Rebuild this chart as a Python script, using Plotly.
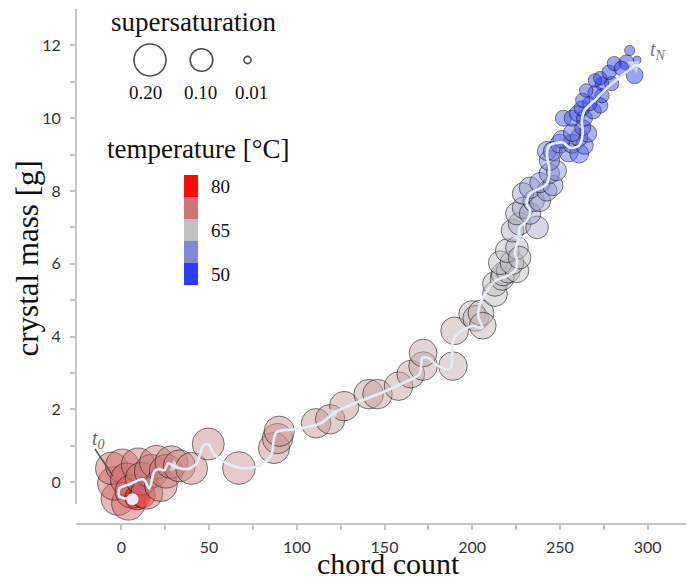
import numpy as np
import plotly.graph_objects as go
from plotly.colors import sample_colorscale

# ---- measurement series (in time order) ----
chord_count = [
    -2, 4, -4, -5.5, 0.5, 3, 6, 9, 12, 9.5, 11.5, 14.5, 17, 20, 22.5, 25.5, 28.5, 33, 40, 49.5,
    67, 87, 89, 90, 111, 119, 127, 141, 146, 158, 165, 172, 172, 189, 190, 200, 202, 205, 206,
    213, 213, 217, 217.6, 220.5, 225.5, 216, 222.7, 220, 225.5, 227, 223, 227, 237, 225.5, 229,
    233, 235, 238.6, 229, 233, 242.6, 238.6, 246, 244, 248, 244, 242.6, 246, 250, 255, 257, 251,
    261, 264, 261, 257, 266, 263, 252, 257, 260, 264, 269, 262.5, 273, 267, 263, 274, 270, 265,
    279.5, 274, 270, 273, 278, 281, 288, 285, 292.6, 289.8, 294,
]
crystal_mass = [
    -0.45, -0.58, -0.03, 0.38, 0.45, 0.08, -0.25, -0.42, -0.35, 0.48, 0.10, -0.30, 0.30, 0.55,
    -0.08, 0.30, 0.55, 0.45, 0.38, 1.05, 0.39, 0.94, 1.20, 1.40, 1.62, 1.73, 2.09, 2.42, 2.42,
    2.64, 2.97, 3.19, 3.55, 3.19, 4.16, 4.62, 4.50, 4.65, 4.30, 5.17, 5.45, 5.60, 5.72, 5.80,
    5.81, 6.03, 6.03, 6.36, 6.44, 6.17, 6.91, 7.10, 7.00, 7.38, 7.54, 7.38, 7.73, 7.73, 7.93,
    8.09, 8.00, 8.23, 8.15, 8.48, 8.56, 8.84, 9.10, 9.10, 9.30, 9.06, 9.30, 9.42, 9.03, 9.25,
    9.47, 9.60, 9.58, 9.74, 10.00, 10.00, 10.13, 10.00, 10.20, 10.27, 10.35, 10.40, 10.49,
    10.62, 10.70, 10.76, 10.95, 10.95, 11.04, 11.10, 11.26, 11.50, 11.53, 11.37, 11.18, 11.86,
    11.60,
]
supersaturation = [
    0.22, 0.22, 0.22, 0.21, 0.22, 0.21, 0.22, 0.12, 0.13, 0.22, 0.21, 0.20, 0.22, 0.22, 0.21,
    0.22, 0.21, 0.20, 0.20, 0.20, 0.21, 0.19, 0.18, 0.18, 0.17, 0.17, 0.17, 0.17, 0.17, 0.16,
    0.15, 0.16, 0.15, 0.16, 0.15, 0.14, 0.13, 0.13, 0.14, 0.12, 0.12, 0.11, 0.11, 0.11, 0.11,
    0.11, 0.11, 0.11, 0.10, 0.10, 0.10, 0.10, 0.10, 0.10, 0.09, 0.09, 0.09, 0.09, 0.09, 0.09,
    0.08, 0.08, 0.08, 0.08, 0.08, 0.08, 0.07, 0.07, 0.07, 0.07, 0.07, 0.06, 0.07, 0.06, 0.06,
    0.06, 0.06, 0.05, 0.05, 0.05, 0.05, 0.05, 0.05, 0.045, 0.045, 0.04, 0.04, 0.04, 0.04,
    0.035, 0.04, 0.035, 0.035, 0.035, 0.04, 0.04, 0.045, 0.04, 0.055, 0.02, 0.012,
]
temperature = [
    73.5, 73.5, 73.5, 73.5, 73, 73, 73.5, 80, 80, 72.5, 72.5, 72.5, 72, 72, 72, 71.5, 71.5, 71, 70.5, 70,
    69.5, 69.5, 69.5, 69.5, 69, 69, 69, 68.5, 68.5, 68, 68, 67.5, 67.5, 67, 67, 66, 66, 66, 66,
    65, 65, 65, 65, 65, 65, 65, 64.5, 64.5, 64, 64, 63, 63, 62, 63, 62, 62, 61, 61, 61,
    60, 59, 59, 59, 58, 58, 57, 56, 56, 55, 55, 55, 55, 54, 54, 54, 54, 53, 53, 53,
    53, 52, 52, 52, 52, 51.5, 51.5, 51.5, 51, 51, 51, 50.5, 50.5, 50.5, 50.5, 50, 50, 50, 50, 50,
    50, 50,
]

# ---- smoothed process trajectory ----
path_chord = [
    6.3, -1.1, -1.1, 4.5, 12.5, 15.9, 18.8, 21.6, 24.5, 26.7, 30, 36.9, 42.6, 46.6, 49.4,
    52.8, 60.8, 68.2, 77.8, 85.2, 87, 88.5, 100, 113.6, 121, 132, 148, 163, 170, 171.6,
    175, 180.7, 187.5, 189, 192, 200.6, 205.7, 203.4, 204.5, 208.5, 213, 220, 224.4, 225.6,
    224.4, 226.7, 227, 231, 233, 231, 233, 238.6, 242.6, 244, 242.6, 244, 251.7, 255.7, 261,
    263, 262.5, 264, 271, 277, 284, 292.6,
]
path_mass = [
    -0.47, -0.39, -0.17, -0.06, 0.08, -0.17, 0.30, 0.36, 0.33, 0.52, 0.44, 0.36, 0.50, 0.99,
    1.05, 0.77, 0.50, 0.39, 0.44, 0.72, 1.20, 1.38, 1.46, 1.62, 1.90, 2.15, 2.45, 2.78, 2.97,
    3.41, 3.41, 3.19, 3.11, 3.88, 4.10, 4.29, 4.24, 4.57, 4.90, 5.26, 5.53, 5.67, 5.81, 6.08,
    6.30, 6.74, 7.00, 7.18, 7.46, 7.65, 7.93, 8.07, 8.20, 8.56, 9.03, 9.25, 9.33, 9.19, 9.25,
    9.58, 9.94, 10.21, 10.54, 10.84, 11.12, 11.45,
]
arrow_points = [10, 24, 45, len(path_chord) - 1]

# ---- legend content ----
size_legend_values = [0.20, 0.10, 0.01]
size_legend_labels = ["0.20", "0.10", "0.01"]
temp_levels = [80, 72.5, 65, 57.5, 50]
temp_labels = {80: "80", 65: "65", 50: "50"}
T_MIN, T_MAX = 50, 80

x_ticks = list(range(0, 301, 50))
y_ticks = list(range(0, 13, 2))
X_RANGE = [-25.9, 321.9]
Y_RANGE = [-1.12, 13.0]

# ---- styling ----
SERIF = "Liberation Serif, Times New Roman, serif"
SANS = "Lato, Open Sans, sans-serif"
AXIS_GRAY = "#c6c6c6"
PATH_COLOR = "#e4edf7"
ALPHA = 0.68
W, H = 687, 579
MARGIN = dict(l=76, r=1, t=9, b=56)

base_stops = [(0.0, (42, 60, 255)), (0.25, (128, 136, 216)), (0.5, (192, 192, 192)),
              (0.75, (205, 116, 116)), (1.0, (255, 10, 10))]
opaque_scale = [[p, "rgb(%d,%d,%d)" % c] for p, c in base_stops]
fill_scale = [[p, "rgba(%d,%d,%d,%.2f)" % (c + (ALPHA,))] for p, c in base_stops]


def bubble_diameter(s):
    # marker area proportional to supersaturation
    return 71.5 * np.sqrt(np.asarray(s, dtype=float))


# pixel scale of the data axes, used to orient arrowheads along the path
px_per_x = (W - MARGIN["l"] - MARGIN["r"]) / (X_RANGE[1] - X_RANGE[0])
px_per_y = (H - MARGIN["t"] - MARGIN["b"]) / (Y_RANGE[1] - Y_RANGE[0])
arrow_angles = []
for i in arrow_points:
    j0 = max(i - 1, 0)
    j1 = min(i + 1, len(path_chord) - 1)
    dx = (path_chord[j1] - path_chord[j0]) * px_per_x
    dy = (path_mass[j1] - path_mass[j0]) * px_per_y
    arrow_angles.append(float(np.degrees(np.arctan2(dx, dy))))

fig = go.Figure()

fig.add_trace(go.Scatter(
    x=chord_count, y=crystal_mass, mode="markers",
    marker=dict(
        size=bubble_diameter(supersaturation),
        color=temperature, cmin=T_MIN, cmax=T_MAX, colorscale=fill_scale,
        line=dict(color="rgba(25,25,25,0.85)", width=1),
        showscale=False,
    ),
    showlegend=False, hoverinfo="skip",
))

fig.add_trace(go.Scatter(
    x=path_chord, y=path_mass, mode="lines",
    line=dict(color=PATH_COLOR, width=2.6, shape="spline", smoothing=0.9),
    showlegend=False, hoverinfo="skip",
))

fig.add_trace(go.Scatter(
    x=[path_chord[i] for i in arrow_points], y=[path_mass[i] for i in arrow_points],
    mode="markers",
    marker=dict(symbol="triangle-up", size=[11, 11, 11, 13], angle=arrow_angles,
                color=PATH_COLOR, line=dict(width=0)),
    showlegend=False, hoverinfo="skip",
))

fig.add_trace(go.Scatter(
    x=[path_chord[0]], y=[path_mass[0]], mode="markers",
    marker=dict(size=12, color=PATH_COLOR, line=dict(width=0)),
    showlegend=False, hoverinfo="skip",
))

# legend layer uses pixel-like overlay axes
LX = [MARGIN["l"], W - MARGIN["r"]]
LY = [H - MARGIN["b"], MARGIN["t"]]
size_legend_x = [150, 201.5, 247.5]
fig.add_trace(go.Scatter(
    x=size_legend_x, y=[60] * 3, xaxis="x2", yaxis="y2", mode="markers",
    marker=dict(size=bubble_diameter(size_legend_values), color="white",
                line=dict(color="black", width=1.6)),
    showlegend=False, hoverinfo="skip",
))

annotations = []
shapes = []

annotations.append(dict(x=193, y=22, xref="x2", yref="y2", text="supersaturation",
                        showarrow=False, font=dict(family=SERIF, size=27, color="#111"),
                        xanchor="center", yanchor="middle"))
for xv, lab in zip([145, 200, 251], size_legend_labels):
    annotations.append(dict(x=xv, y=92, xref="x2", yref="y2", text=lab, showarrow=False,
                            font=dict(family=SERIF, size=19, color="#111"),
                            xanchor="center", yanchor="middle"))

annotations.append(dict(x=198, y=149, xref="x2", yref="y2", text="temperature [°C]",
                        showarrow=False, font=dict(family=SERIF, size=27, color="#111"),
                        xanchor="center", yanchor="middle"))
swatch_colors = sample_colorscale(opaque_scale, [(t - T_MIN) / (T_MAX - T_MIN) for t in temp_levels])
sw_top, sw_h = 175, 22
for k, (t, col) in enumerate(zip(temp_levels, swatch_colors)):
    y0 = sw_top + k * sw_h
    shapes.append(dict(type="rect", xref="x2", yref="y2", x0=184, x1=198, y0=y0, y1=y0 + sw_h,
                       fillcolor=col, line=dict(width=0), layer="above"))
    if t in temp_labels:
        annotations.append(dict(x=209, y=y0 + sw_h / 2, xref="x2", yref="y2",
                                text=temp_labels[t], showarrow=False,
                                font=dict(family=SERIF, size=19, color="#111"),
                                xanchor="left", yanchor="middle"))

# start / end labels
annotations.append(dict(x=98, y=439, xref="x2", yref="y2", text="<i>t<sub>0</sub></i>",
                        showarrow=False, font=dict(family=SERIF, size=20, color="#666"),
                        xanchor="center", yanchor="middle"))
shapes.append(dict(type="line", xref="x2", yref="y2", x0=95, y0=449, x1=113, y1=476,
                   line=dict(color="#555", width=1.5)))
annotations.append(dict(x=658, y=50, xref="x2", yref="y2", text="<i>t<sub>N</sub></i>",
                        showarrow=False, font=dict(family=SERIF, size=20, color="#777"),
                        xanchor="center", yanchor="middle"))

# axis titles
annotations.append(dict(x=0.512, y=-0.078, xref="paper", yref="paper", text="chord count",
                        showarrow=False, font=dict(family=SERIF, size=30, color="#111"),
                        xanchor="center", yanchor="middle"))
annotations.append(dict(x=-0.08, y=0.515, xref="paper", yref="paper", text="crystal mass [g]",
                        textangle=-90, showarrow=False,
                        font=dict(family=SERIF, size=31, color="#111"),
                        xanchor="center", yanchor="middle"))

# detached y-axis spine
shapes.append(dict(type="line", xref="paper", yref="y", x0=0, x1=0, y0=-0.6, y1=Y_RANGE[1],
                   line=dict(color=AXIS_GRAY, width=2)))

fig.update_layout(
    width=W, height=H,
    margin=MARGIN,
    paper_bgcolor="white", plot_bgcolor="white",
    xaxis=dict(range=X_RANGE, showgrid=False, zeroline=False,
               showline=True, linecolor=AXIS_GRAY, linewidth=2,
               tickvals=x_ticks, ticks="outside", ticklen=5, tickwidth=1.5,
               tickcolor=AXIS_GRAY, ticklabelstandoff=4,
               tickfont=dict(family=SANS, size=16, color="#333"),
               minor=dict(tickvals=[25, 75, 125, 175, 225, 275], ticks="outside",
                          ticklen=5, tickwidth=1.5, tickcolor=AXIS_GRAY)),
    yaxis=dict(range=Y_RANGE, showgrid=False, zeroline=False, showline=False,
               tickvals=y_ticks, ticks="outside", ticklen=5, tickwidth=1.5,
               tickcolor=AXIS_GRAY, ticklabelstandoff=6,
               tickfont=dict(family=SANS, size=16, color="#333"),
               minor=dict(tickvals=[1, 3, 5, 7, 9, 11], ticks="outside",
                          ticklen=5, tickwidth=1.5, tickcolor=AXIS_GRAY)),
    xaxis2=dict(range=LX, overlaying="x", anchor="y2", visible=False, fixedrange=True),
    yaxis2=dict(range=LY, overlaying="y", anchor="x2", visible=False, fixedrange=True),
    annotations=annotations,
    shapes=shapes,
    showlegend=False,
)

fig.write_html("out.html")
